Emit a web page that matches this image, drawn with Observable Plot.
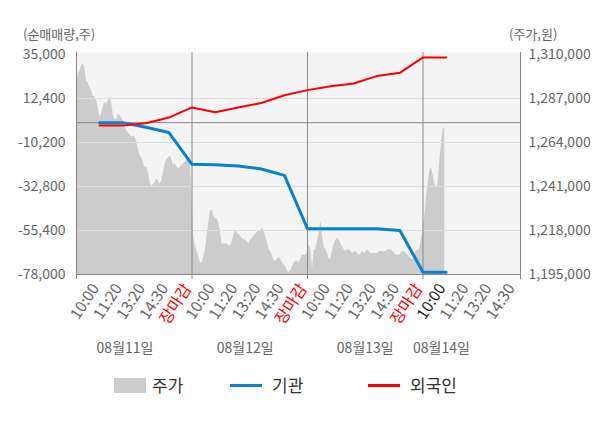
<!DOCTYPE html>
<html><head><meta charset="utf-8">
<script src="https://cdn.jsdelivr.net/npm/d3@7"></script>
<script src="https://cdn.jsdelivr.net/npm/@observablehq/plot@0.6"></script>
<style>
body{margin:0;background:#fff;font-family:"Noto Sans CJK KR","Noto Sans",sans-serif;}
#wrap{position:relative;width:600px;height:428px;overflow:hidden;}
#wrap svg{position:absolute;left:0;top:0;}
.unit{position:absolute;top:24px;font-size:13px;color:#666;line-height:20px;}
.leg{position:absolute;top:374px;font-size:17px;color:#333;line-height:22px;}
.sw{position:absolute;}
</style></head><body><div id="wrap"></div>
<script>
// Time labels along the x axis (each label is one slot; day boundaries every 5 slots)
const tickLabels = ["10:00","11:20","13:20","14:30","장마감",
                    "10:00","11:20","13:20","14:30","장마감",
                    "10:00","11:20","13:20","14:30","장마감",
                    "10:00","11:20","13:20","14:30"];
const dayLabels = ["08월11일","08월12일","08월13일","08월14일"];
const dayLabelSlots = [2.1, 7.3, 12.5, 15.8];
const dayBoundaries = [0, 5, 10, 15];
const xMax = 19.22;

// Cumulative net buying (shares) at each labelled time, from day-1 10:00 to day-4 10:00
const institution = [0, 0, -2400, -5100, -21400, -21600, -22300, -23800, -27100,
                     -54500, -54500, -54500, -54500, -55400, -76800, -76800];
const foreign = [-1500, -1500, -300, 2600, 7800, 5350, 7800, 10100, 14100,
                 16700, 18700, 20100, 23900, 25600, 33500, 33500];

// Intraday price (KRW), sampled evenly through each trading day
const price0811 = [1293000,1300000,1301000,1304000,1305000,1303000,1296000,1295000,1293000,1291000,
  1288000,1288000,1286000,1282000,1277000,1279000,1283000,1285000,1284000,1286000,
  1288000,1285000,1278000,1276000,1276000,1279000,1278000,1277000,1275000,1272000,
  1270000,1269000,1268000,1267000,1267000,1267000,1264000,1260000,1257000,1256000,
  1253000,1251000,1251000,1248000,1243000,1241000,1242000,1243000,1245000,1244000,
  1242000,1244000,1249000,1253000,1255000,1256000,1257000,1255000,1252000,1253000,
  1251000,1250000,1251000,1252000,1253000,1254000,1255000,1256000,1255000];
const price0812 = [1235000,1215000,1210000,1207000,1204000,1201000,1201000,1204000,1208000,1215000,
  1222000,1228000,1229000,1226000,1224000,1224000,1222000,1217000,1211000,1211000,
  1211000,1211000,1210000,1210000,1212000,1216000,1218000,1217000,1216000,1215000,
  1214000,1213000,1213000,1212000,1211000,1213000,1214000,1215000,1216000,1217000,
  1218000,1218000,1219000,1218000,1215000,1212000,1208000,1207000,1205000,1202000,
  1202000,1203000,1204000,1203000,1201000,1200000,1199000,1197000,1196000,1197000,
  1199000,1201000,1202000,1202000,1201000,1203000,1205000,1205000,1205000,1207000];
const price0813 = [1204000,1211000,1208000,1198000,1208000,1208000,1213000,1217000,1223000,1215000,
  1209000,1208000,1206000,1203000,1203000,1208000,1211000,1213000,1214000,1213000,
  1211000,1209000,1208000,1207000,1208000,1208000,1207000,1206000,1207000,1207000,
  1206000,1205000,1206000,1207000,1206000,1207000,1208000,1207000,1206000,1206000,
  1206000,1206000,1206000,1207000,1207000,1207000,1207000,1207000,1208000,1208000,
  1208000,1207000,1206000,1205000,1205000,1205000,1206000,1207000,1207000,1206000,
  1205000,1204000,1203000,1203000,1205000,1207000,1208000,1208000,1213000,1218000];
const price0814 = [1220000,1225000,1235000,1242000,1249000,1251000,1247000,1243000,1240000,1243000,
  1254000,1263000,1272000,1271000];

const leftTicks = [35000, 12400, -10200, -32800, -55400, -78000];
const rightTicks = [1310000, 1287000, 1264000, 1241000, 1218000, 1195000];

// map the price (right axis) onto the left axis units
const yLo = -78000, yHi = 35000, pLo = 1195000, pHi = 1310000;
const toLeft = p => yLo + (p - pLo) * (yHi - yLo) / (pHi - pLo);
const fmt = d => d.toLocaleString("en-US");

const slotStep = 5 / 69;
const priceData = [price0811, price0812, price0813, price0814]
  .flatMap((arr, d) => arr.map((p, i) => ({slot: d * 5 + i * slotStep, price: p})));
const ticks = tickLabels.map((label, i) => ({slot: i + 1, label, idx: i}));
const instData = institution.map((v, i) => ({slot: i + 1, v}));
const forData = foreign.map((v, i) => ({slot: i + 1, v}));

const chart = Plot.plot({
  width: 600, height: 428,
  marginLeft: 76, marginRight: 80, marginTop: 54, marginBottom: 154,
  style: {fontFamily: '"Noto Sans CJK KR","Noto Sans",sans-serif', fontSize: "14px", color: "#666", background: "transparent", overflow: "visible"},
  x: {domain: [0, xMax], axis: null},
  y: {domain: [yLo, yHi], axis: null},
  marks: [
    Plot.frame({fill: "#f4f4f4", stroke: "none", insetTop: -2}),
    Plot.areaY(priceData, {x: "slot", y1: yLo, y2: d => toLeft(d.price), fill: "#cccccc"}),
    Plot.ruleY(leftTicks.slice(1, -1), {stroke: "#dddddd"}),
    Plot.ruleY([0], {stroke: "#8a8a8a"}),
    Plot.ruleY([yLo], {stroke: "#8a8a8a"}),
    Plot.ruleX([...dayBoundaries, xMax], {stroke: "#8a8a8a", insetTop: -2, insetBottom: -5}),
    Plot.line(instData, {x: "slot", y: "v", stroke: "#0a80d0", strokeWidth: 3}),
    Plot.line(forData, {x: "slot", y: "v", stroke: "#ff0000", strokeWidth: 2}),
    Plot.text(leftTicks, {y: d => d, frameAnchor: "left", textAnchor: "end", dx: -11, text: fmt, fill: "#666", fontSize: 14}),
    Plot.text(rightTicks, {y: d => toLeft(d), frameAnchor: "right", textAnchor: "start", dx: 8, text: fmt, fill: "#666", fontSize: 14}),
    Plot.text(ticks.filter(d => d.label !== "장마감"), {x: "slot", frameAnchor: "bottom", text: "label", rotate: -57, textAnchor: "end", dy: 13.5, fontSize: 15.5,
      fill: d => d.idx === 15 ? "#222" : "#666"}),
    Plot.text(ticks.filter(d => d.label === "장마감"), {x: "slot", frameAnchor: "bottom", text: "label", rotate: -57, textAnchor: "end", dy: 14, fontSize: 16,
      fill: "#ff0000"}),
    Plot.text(dayLabels, {x: (d, i) => dayLabelSlots[i], frameAnchor: "bottom", dy: 78, text: d => d, fill: "#666", fontSize: 14})
  ]
});

const wrap = document.getElementById("wrap");
wrap.appendChild(chart);
wrap.insertAdjacentHTML("beforeend", `
  <div class="unit" style="left:23px">(순매매량,주)</div>
  <div class="unit" style="left:509px">(주가,원)</div>
  <div class="sw" style="left:114px;top:378px;width:32px;height:15px;background:#cccccc"></div>
  <div class="leg" style="left:152px">주가</div>
  <div class="sw" style="left:230px;top:384px;width:32px;height:3px;background:#0a80d0"></div>
  <div class="leg" style="left:272px">기관</div>
  <div class="sw" style="left:368px;top:384px;width:32px;height:3px;background:#ff0000"></div>
  <div class="leg" style="left:410px">외국인</div>
`);
</script>
</body></html>
